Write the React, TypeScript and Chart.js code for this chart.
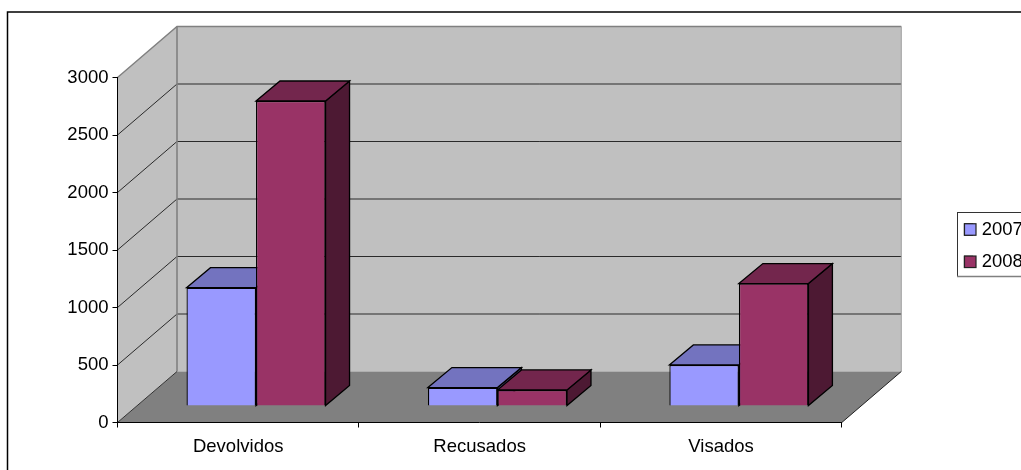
import React, { useEffect, useRef } from "react";
import { Chart, registerables } from "chart.js";

Chart.register(...registerables);

const categories = ["Devolvidos", "Recusados", "Visados"];
const series2007 = [1029, 160, 357];
const series2008 = [2652, 140, 1065];
const seriesNames = ["2007", "2008"];
const colors2007 = { front: "#9999FF", top: "#7373BF", side: "#4D4D80" };
const colors2008 = { front: "#993366", top: "#73264D", side: "#4D1933" };
const yTicks = { min: 0, max: 3000, step: 500 };

const W = 1100;
const H = 520;
const FONT = { family: "'Liberation Sans', Arial, sans-serif", size: 18.5 };
const WALL = { dx: 59.5, dy: -51 };
const BAR_OFFSET = { dx: 17.8, dy: -16.5 };
const BAR_DEPTH = { dx: 24, dy: -20 };
const LEGEND = { left: 957, top: 212, right: 1060, bottom: 276, swatchX: 964.5, swatchSize: 11.5, firstRow: 229.5, rowStep: 32.3 };
const LEGEND_WIDTH = 82.5;
const palette = [colors2007, colors2008];

function poly(ctx: CanvasRenderingContext2D, pts: number[][], fill?: string, stroke?: string, lw = 1) {
  ctx.beginPath();
  pts.forEach((p, i) => (i ? ctx.lineTo(p[0], p[1]) : ctx.moveTo(p[0], p[1])));
  if (fill) {
    ctx.closePath();
    ctx.fillStyle = fill;
    ctx.fill();
  }
  if (stroke) {
    ctx.strokeStyle = stroke;
    ctx.lineWidth = lw;
    ctx.stroke();
  }
}

function drawFaces(ctx: CanvasRenderingContext2D, meta: any, c: { top: string; side: string }) {
  const { dx, dy } = BAR_DEPTH;
  meta.data.forEach((el: any) => {
    const l = el.x - el.width / 2;
    const r = el.x + el.width / 2;
    poly(ctx, [[r, el.y], [r + dx, el.y + dy], [r + dx, el.base + dy], [r, el.base]], c.side, "#000", 1.3);
    poly(ctx, [[l, el.y], [l + dx, el.y + dy], [r + dx, el.y + dy], [r, el.y]], c.top, "#000", 1.3);
  });
}

const threeD = {
  id: "threeD",
  afterLayout(chart: any) {
    const lg = chart.legend;
    const pad = lg.options.labels.padding;
    lg.left = LEGEND.swatchX - pad;
    lg.right = W;
    lg.top = LEGEND.firstRow - FONT.size / 2 - pad;
    lg.bottom = H;
  },
  beforeDraw(chart: any) {
    const { ctx, chartArea: a, scales } = chart;
    const y = scales.y;
    const { dx, dy } = WALL;
    ctx.save();
    ctx.fillStyle = "#fff";
    ctx.fillRect(0, 0, W, H);
    ctx.strokeStyle = "#000";
    ctx.lineWidth = 1.5;
    ctx.strokeRect(7.5, 12, W + 100, H + 100);

    // side wall, back wall, floor
    poly(ctx, [[a.left, a.top], [a.left + dx, a.top + dy], [a.left + dx, a.bottom + dy], [a.left, a.bottom]], "#C0C0C0");
    poly(ctx, [[a.left + dx, a.top + dy], [a.right + dx, a.top + dy], [a.right + dx, a.bottom + dy], [a.left + dx, a.bottom + dy]], "#C0C0C0");
    poly(ctx, [[a.left, a.bottom], [a.right, a.bottom], [a.right + dx, a.bottom + dy], [a.left + dx, a.bottom + dy]], "#808080");

    // gridlines through the scale
    for (let v = yTicks.min + yTicks.step; v < yTicks.max; v += yTicks.step) {
      const py = y.getPixelForValue(v);
      poly(ctx, [[a.left, py], [a.left + dx, py + dy], [a.right + dx, py + dy]], undefined, "#2a2a2a", 1);
    }
    // wall edges
    poly(ctx, [[a.left, a.top], [a.left + dx, a.top + dy], [a.right + dx, a.top + dy]], undefined, "#808080", 1.4);
    poly(ctx, [[a.left + dx, a.top + dy], [a.left + dx, a.bottom + dy]], undefined, "#808080", 1.6);
    poly(ctx, [[a.right + dx, a.top + dy], [a.right + dx, a.bottom + dy]], undefined, "#A0A0A0", 1);
    poly(ctx, [[a.left, a.bottom], [a.left + dx, a.bottom + dy]], undefined, "#333", 1);
    poly(ctx, [[a.right, a.bottom], [a.right + dx, a.bottom + dy]], undefined, "#222", 1);

    // legend frame
    ctx.fillStyle = "#fff";
    ctx.fillRect(LEGEND.left, LEGEND.top, LEGEND.right - LEGEND.left, LEGEND.bottom - LEGEND.top);
    ctx.strokeStyle = "#333";
    ctx.lineWidth = 1;
    ctx.strokeRect(LEGEND.left + 0.5, LEGEND.top + 0.5, LEGEND.right - LEGEND.left, LEGEND.bottom - LEGEND.top);
    poly(ctx, [[LEGEND.left, LEGEND.bottom + 0.5], [LEGEND.right, LEGEND.bottom + 0.5]], undefined, "#808080", 1.6);
    ctx.restore();
  },
  beforeDatasetDraw(chart: any, args: any) {
    const { ctx } = chart;
    ctx.save();
    ctx.translate(BAR_OFFSET.dx, BAR_OFFSET.dy);
    // Chart.js paints the last dataset first, so all depth faces go down here,
    // left series before right, ahead of both front faces.
    if (args.index === 1) {
      drawFaces(ctx, chart.getDatasetMeta(0), palette[0]);
      drawFaces(ctx, args.meta, palette[1]);
    }
  },
  afterDatasetDraw(chart: any) {
    chart.ctx.restore();
  },
  afterDatasetsDraw(chart: any) {
    // widen the legend swatches to the reference's size
    const { ctx } = chart;
    ctx.save();
    seriesNames.forEach((_: string, i: number) => {
      const s = LEGEND.swatchSize;
      const cy = LEGEND.firstRow + i * LEGEND.rowStep;
      ctx.fillStyle = palette[i].front;
      ctx.fillRect(LEGEND.swatchX, cy - s / 2, s, s);
      ctx.strokeStyle = "#222";
      ctx.lineWidth = 1.2;
      ctx.strokeRect(LEGEND.swatchX, cy - s / 2, s, s);
    });
    ctx.restore();
  },
};

export default function App() {
  const ref = useRef<HTMLCanvasElement>(null);
  useEffect(() => {
    const chart = new Chart(ref.current!, {
      type: "bar",
      plugins: [threeD],
      data: {
        labels: categories,
        datasets: [
          { label: seriesNames[0], data: series2007, backgroundColor: colors2007.front, borderColor: "#000", borderWidth: 1.3, clip: false },
          { label: seriesNames[1], data: series2008, backgroundColor: colors2008.front, borderColor: "#000", borderWidth: 1.3, clip: false },
        ],
      } as any,
      options: {
        animation: false,
        responsive: false,
        devicePixelRatio: 1,
        layout: { padding: { left: 0, top: 77.5, right: W - 841.5 - LEGEND_WIDTH, bottom: 0 } },
        datasets: { bar: { barPercentage: 1, categoryPercentage: 0.576 } },
        plugins: {
          tooltip: { enabled: false },
          legend: {
            display: true,
            position: "right",
            align: "start",
            labels: { font: FONT, color: "#000", boxWidth: 8, boxHeight: 11, padding: 13.8 },
          },
        },
        scales: {
          x: {
            grid: { drawOnChartArea: false, drawTicks: true, tickLength: 5, color: "#000", offset: true },
            border: { color: "#000", width: 1 },
            ticks: { color: "#000", font: FONT, padding: 8, maxRotation: 0 },
            afterFit(s: any) {
              s.height = H - 422.5;
            },
          },
          y: {
            min: yTicks.min,
            max: yTicks.max,
            grid: { drawOnChartArea: false, drawTicks: true, tickLength: 5, color: "#000" },
            border: { color: "#000", width: 1 },
            ticks: { stepSize: yTicks.step, color: "#000", font: FONT, padding: 4, callback: (v: any) => String(v) },
            afterFit(s: any) {
              s.width = 117.5;
            },
          },
        },
      } as any,
    });
    return () => chart.destroy();
  }, []);
  return (
    <div style={{ position: "fixed", left: 0, top: 0, width: 1021, height: 470, overflow: "hidden", background: "#fff" }}>
      <canvas ref={ref} width={W} height={H} style={{ display: "block", width: W, height: H }} />
    </div>
  );
}
